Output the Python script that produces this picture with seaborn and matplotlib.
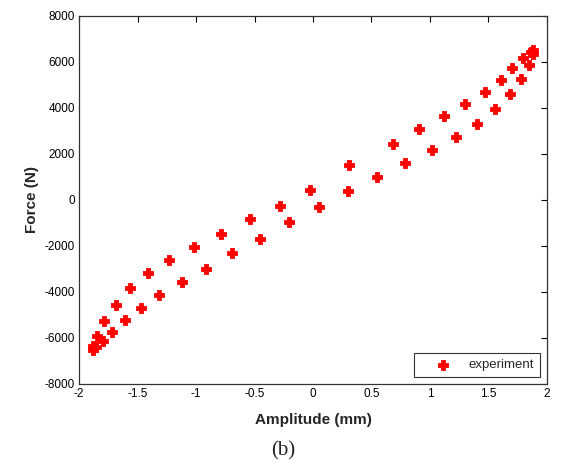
import matplotlib
matplotlib.use("Agg")
import matplotlib.pyplot as plt
import seaborn as sns
import pandas as pd

# Dados (amplitude em mm, força em N)
amplitude = [-1.883, -1.878, -1.855, -1.844, -1.797, -1.783, -1.720, -1.684,
             -1.604, -1.561, -1.470, -1.413, -1.313, -1.231, -1.117, -1.020,
             -0.917, -0.786, -0.692, -0.541, -0.456, -0.285, -0.208, -0.026,
             0.051, 0.302, 0.308, 0.547, 0.681, 0.786, 0.909, 1.020, 1.120,
             1.220, 1.302, 1.404, 1.470, 1.553, 1.604, 1.681, 1.704, 1.780,
             1.797, 1.844, 1.861, 1.878, 1.883]
forca = [-6520, -6350, -6400, -5910, -6120, -5260, -5720, -4550,
         -5220, -3840, -4700, -3190, -4140, -2610, -3580, -2060,
         -2990, -1480, -2320, -840, -1680, -260, -970, 430,
         -290, 370, 1500, 1010, 2420, 1620, 3090, 2190, 3650,
         2750, 4170, 3320, 4680, 3970, 5220, 4620, 5720, 5280,
         6190, 5850, 6450, 6520, 6350]

df = pd.DataFrame({"Amplitude": amplitude, "Forca": forca})

sns.set_theme(style="white")
plt.rcParams["font.family"] = ["Liberation Sans", "DejaVu Sans"]
plt.rcParams["axes.unicode_minus"] = False

fig = plt.figure(figsize=(5.66, 4.66), dpi=100)
ax = fig.add_axes([0.1396, 0.176, 0.8268, 0.7897])

sns.scatterplot(data=df, x="Amplitude", y="Forca", marker="P", s=42,
                color="red", edgecolor="red", linewidth=0.6,
                label="experiment", ax=ax)

ax.set_xlim(-2, 2)
ax.set_ylim(-8000, 8000)
ax.set_xticks([-2, -1.5, -1, -0.5, 0, 0.5, 1, 1.5, 2])
ax.set_xticklabels(["-2", "-1.5", "-1", "-0.5", "0", "0.5", "1", "1.5", "2"])
ax.set_yticks(range(-8000, 8001, 2000))
ax.tick_params(direction="in", length=4, width=0.8, top=True, right=True,
               labelsize=8.5, colors="black", pad=3)
for s in ax.spines.values():
    s.set_color("#333333")
    s.set_linewidth(0.9)

ax.set_xlabel("Amplitude (mm)", fontsize=11, fontweight="bold", labelpad=9)
ax.set_ylabel("Force (N)", fontsize=11, fontweight="bold", labelpad=4)

leg = ax.legend(loc="lower right", fancybox=False, fontsize=9.5,
                borderpad=0.45, handletextpad=0.25, handlelength=3.5,
                borderaxespad=0.5, bbox_to_anchor=(1, 0))
leg.get_frame().set_edgecolor("black")
leg.get_frame().set_linewidth(0.8)

fig.text(0.5, 0.033, "(b)", ha="center", va="center", fontsize=15,
         family=["Liberation Serif", "DejaVu Serif"])

fig.savefig("out.png", dpi=100)
